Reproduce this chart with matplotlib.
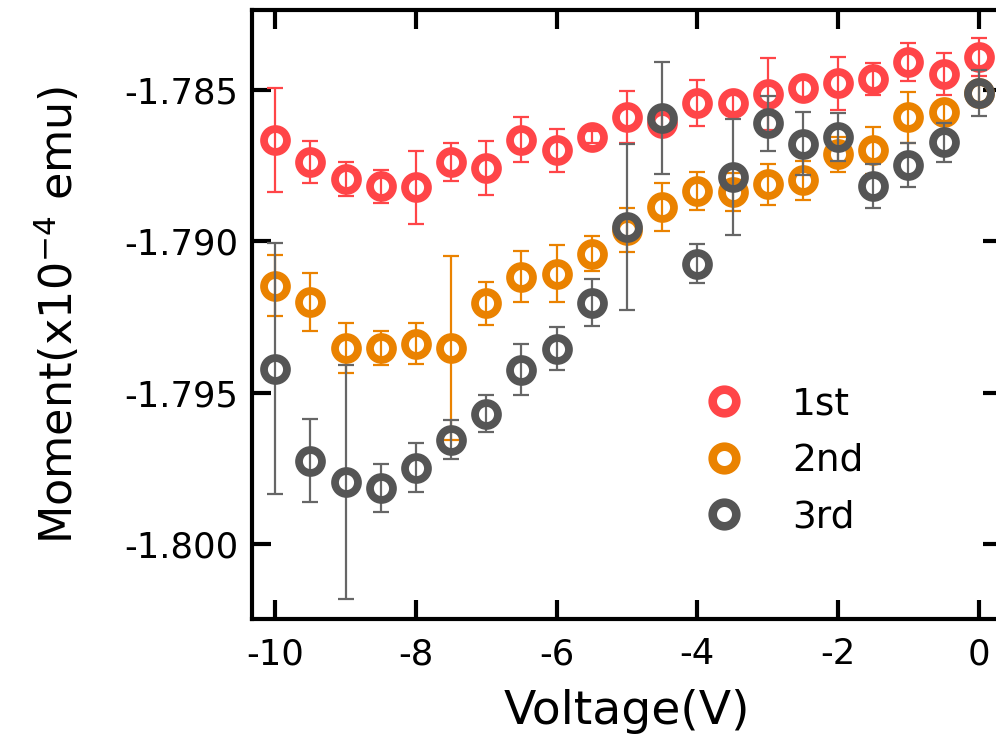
import matplotlib
matplotlib.use("Agg")
import matplotlib.pyplot as plt
from matplotlib.lines import Line2D

plt.rcParams['font.family'] = ['DejaVu Sans']
plt.rcParams['mathtext.fontset'] = 'dejavusans'
plt.rcParams['mathtext.default'] = 'regular'

voltage = [-10, -9.5, -9, -8.5, -8, -7.5, -7, -6.5, -6, -5.5, -5,
           -4.5, -4, -3.5, -3, -2.5, -2, -1.5, -1, -0.5, 0]

m1 = [-1.78666, -1.78738, -1.78795, -1.78818, -1.78821, -1.78738, -1.78758,
      -1.78663, -1.78699, -1.78655, -1.78589, -1.78610, -1.78543, -1.78543,
      -1.78513, -1.78493, -1.78477, -1.78464, -1.78407, -1.78447, -1.78391]
e1 = [0.00172, 0.00070, 0.00056, 0.00055, 0.00120, 0.00062, 0.00090,
      0.00076, 0.00070, 0.00020, 0.00086, 0.00030, 0.00076, 0.00030,
      0.00120, 0.00030, 0.00087, 0.00053, 0.00062, 0.00070, 0.00062]

m2 = [-1.79146, -1.79199, -1.79351, -1.79351, -1.79338, -1.79351, -1.79205,
      -1.79116, -1.79106, -1.79040, -1.78963, -1.78887, -1.78834, -1.78837,
      -1.78811, -1.78798, -1.78712, -1.78699, -1.78589, -1.78573, -1.78510]
e2 = [0.00100, 0.00096, 0.00083, 0.00056, 0.00068, 0.00304, 0.00071,
      0.00084, 0.00093, 0.00058, 0.00073, 0.00080, 0.00063, 0.00063,
      0.00068, 0.00065, 0.00058, 0.00078, 0.00084, 0.00030, 0.00030]

m3 = [-1.79420, -1.79725, -1.79795, -1.79815, -1.79748, -1.79655, -1.79569,
      -1.79424, -1.79354, -1.79202, -1.78953, -1.78593, -1.79073, -1.78788,
      -1.78610, -1.78677, -1.78655, -1.78818, -1.78748, -1.78672, -1.78510]
e3 = [0.00414, 0.00137, 0.00387, 0.00078, 0.00081, 0.00065, 0.00061,
      0.00084, 0.00071, 0.00079, 0.00275, 0.00185, 0.00063, 0.00192,
      0.00092, 0.00104, 0.00079, 0.00073, 0.00073, 0.00065, 0.00076]

labels = ['1st', '2nd', '3rd']
colors = ['#FF4548', '#EA8200', '#555555']
ecolors = ['#FF4548', '#EA8200', '#666666']

fig = plt.figure(figsize=(9.96, 7.43), dpi=100)
ax = fig.add_axes([0.2530, 0.1669, 0.7530, 0.8196])

handles = []
for i, (m, e, lab, c, ec) in enumerate(zip([m1, m2, m3], [e1, e2, e3], labels, colors, ecolors)):
    ax.errorbar(voltage, m, yerr=e, fmt='none', ecolor=ec, elinewidth=1.6,
                capsize=6, capthick=1.6, zorder=2 + 2 * i)
    ax.plot(voltage, m, linestyle='none', marker='o', ms=16.5, mfc='none',
            mec=c, mew=5.6, zorder=3 + 2 * i)
    handles.append(Line2D([], [], linestyle='none', marker='o', ms=17, mfc='none',
                          mec=c, mew=6.2, label=lab))

ax.set_xlim(-10.33, 0.33)
ax.set_ylim(-1.80248, -1.78235)
ax.set_xticks([-10, -8, -6, -4, -2, 0])
ax.set_xticklabels(['-10', '-8', '-6', '-4', '-2', '0'])
ax.set_yticks([-1.800, -1.795, -1.790, -1.785])
ax.set_yticklabels(['-1.800', '-1.795', '-1.790', '-1.785'])

for s in ax.spines.values():
    s.set_linewidth(3)
ax.tick_params(direction='in', length=14, width=3, top=True, right=True,
               labelsize=25.5, pad=13)
ax.tick_params(axis='y', pad=10)

ax.set_xlabel('Voltage(V)', fontsize=34, labelpad=13)
ax.set_ylabel('Moment(x10$^{-4}$ emu)', fontsize=32, labelpad=30)

ax.legend(handles=handles, loc='center left', bbox_to_anchor=(0.58, 0.26),
          frameon=False, fontsize=27, handletextpad=1.3, labelspacing=0.55,
          handlelength=1.0, borderpad=0)

fig.savefig('out.png', dpi=100)
